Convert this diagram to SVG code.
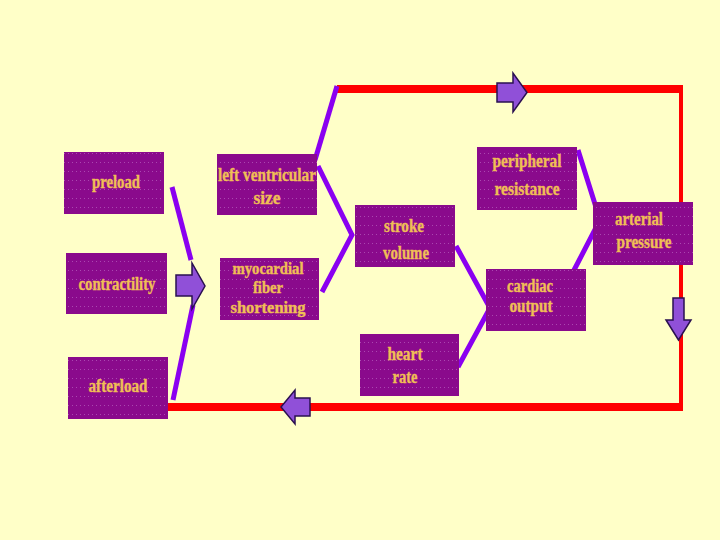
<svg xmlns="http://www.w3.org/2000/svg" width="720" height="540" viewBox="0 0 720 540">
<style>
.box{fill:#8A0A8C;}
.t{font-family:"Liberation Serif","DejaVu Serif",serif;font-weight:bold;font-size:18px;fill:#F0BE55;stroke:#F0BE55;stroke-width:0.4;text-anchor:middle;}
.s{font-size:16px;}
.p{stroke:#8A00F0;stroke-width:5;fill:none;stroke-linecap:butt;}
.r{stroke:#FF0000;fill:none;}
.ba{fill:#9050D8;stroke:#2A1050;stroke-width:1.5;stroke-linejoin:miter;}
</style>
<defs>
<pattern id="dots" width="4" height="9" patternUnits="userSpaceOnUse">
<rect x="0" y="0" width="1" height="1" fill="#C070C8" opacity="0.6"/>
</pattern>
</defs>
<rect x="0" y="0" width="720" height="540" fill="#FFFFC8"/>

<g id="connectors">
<polyline class="r" stroke-width="8" points="337,89 683,89"/>
<polyline class="r" stroke-width="4" points="681,89 681,407"/>
<polyline class="r" stroke-width="8" points="683,407 166,407"/>
<line class="p" x1="337" y1="86" x2="315" y2="160"/>
<polyline class="p" points="318,166 352,235 322,292"/>
<line class="p" x1="172" y1="187" x2="191" y2="260"/>
<line class="p" x1="193" y1="305" x2="173" y2="400"/>
<polyline class="p" points="456,246 490,308 458,367"/>
<polyline class="p" points="578,150 600,220 572,274"/>
<polygon class="ba" points="497,83 513,83 513,73 527,92.5 513,112 513,102 497,102"/>
<polygon class="ba" points="176,275 192,275 192,263 205,286 192,309 192,296 176,296"/>
<polygon class="ba" points="673,298 684,298 684,320 691,320 678.5,340 666,320 673,320"/>
<polygon class="ba" points="310,398 295,398 295,390 281,407 295,424 295,416 310,416"/>
</g>

<g id="preload"><rect class="box" x="64" y="152" width="100" height="62"/><rect x="64" y="152" width="100" height="62" fill="url(#dots)"/><text class="t" x="116" y="188" textLength="48" lengthAdjust="spacingAndGlyphs">preload</text></g>
<g id="lv-size"><rect class="box" x="217" y="154" width="100" height="61"/><rect x="217" y="154" width="100" height="61" fill="url(#dots)"/><text class="t" x="267" y="181" textLength="98" lengthAdjust="spacingAndGlyphs">left ventricular</text><text class="t" x="267" y="204" textLength="27" lengthAdjust="spacingAndGlyphs">size</text></g>
<g id="contractility"><rect class="box" x="66" y="253" width="101" height="61"/><rect x="66" y="253" width="101" height="61" fill="url(#dots)"/><text class="t" x="117" y="290" textLength="77" lengthAdjust="spacingAndGlyphs">contractility</text></g>
<g id="myocardial"><rect class="box" x="220" y="258" width="99" height="62"/><rect x="220" y="258" width="99" height="62" fill="url(#dots)"/><text class="t s" x="268" y="274" textLength="71" lengthAdjust="spacingAndGlyphs">myocardial</text><text class="t s" x="268" y="293" textLength="30" lengthAdjust="spacingAndGlyphs">fiber</text><text class="t s" x="268" y="313" textLength="75" lengthAdjust="spacingAndGlyphs">shortening</text></g>
<g id="afterload"><rect class="box" x="68" y="357" width="100" height="62"/><rect x="68" y="357" width="100" height="62" fill="url(#dots)"/><text class="t" x="118" y="392" textLength="59" lengthAdjust="spacingAndGlyphs">afterload</text></g>
<g id="stroke-volume"><rect class="box" x="355" y="205" width="100" height="62"/><rect x="355" y="205" width="100" height="62" fill="url(#dots)"/><text class="t" x="404" y="232" textLength="40" lengthAdjust="spacingAndGlyphs">stroke</text><text class="t" x="406" y="259" textLength="46" lengthAdjust="spacingAndGlyphs">volume</text></g>
<g id="peripheral"><rect class="box" x="477" y="147" width="100" height="63"/><rect x="477" y="147" width="100" height="63" fill="url(#dots)"/><text class="t" x="527" y="167" textLength="69" lengthAdjust="spacingAndGlyphs">peripheral</text><text class="t" x="527" y="195" textLength="65" lengthAdjust="spacingAndGlyphs">resistance</text></g>
<g id="arterial"><rect class="box" x="593" y="202" width="100" height="63"/><rect x="593" y="202" width="100" height="63" fill="url(#dots)"/><text class="t" x="639" y="225" textLength="48" lengthAdjust="spacingAndGlyphs">arterial</text><text class="t" x="644" y="248" textLength="55" lengthAdjust="spacingAndGlyphs">pressure</text></g>
<g id="cardiac"><rect class="box" x="486" y="269" width="100" height="62"/><rect x="486" y="269" width="100" height="62" fill="url(#dots)"/><text class="t" x="530" y="292" textLength="46" lengthAdjust="spacingAndGlyphs">cardiac</text><text class="t" x="531" y="312" textLength="43" lengthAdjust="spacingAndGlyphs">output</text></g>
<g id="heart-rate"><rect class="box" x="360" y="334" width="99" height="62"/><rect x="360" y="334" width="99" height="62" fill="url(#dots)"/><text class="t" x="405" y="360" textLength="35" lengthAdjust="spacingAndGlyphs">heart</text><text class="t" x="405" y="383" textLength="25" lengthAdjust="spacingAndGlyphs">rate</text></g>
</svg>
